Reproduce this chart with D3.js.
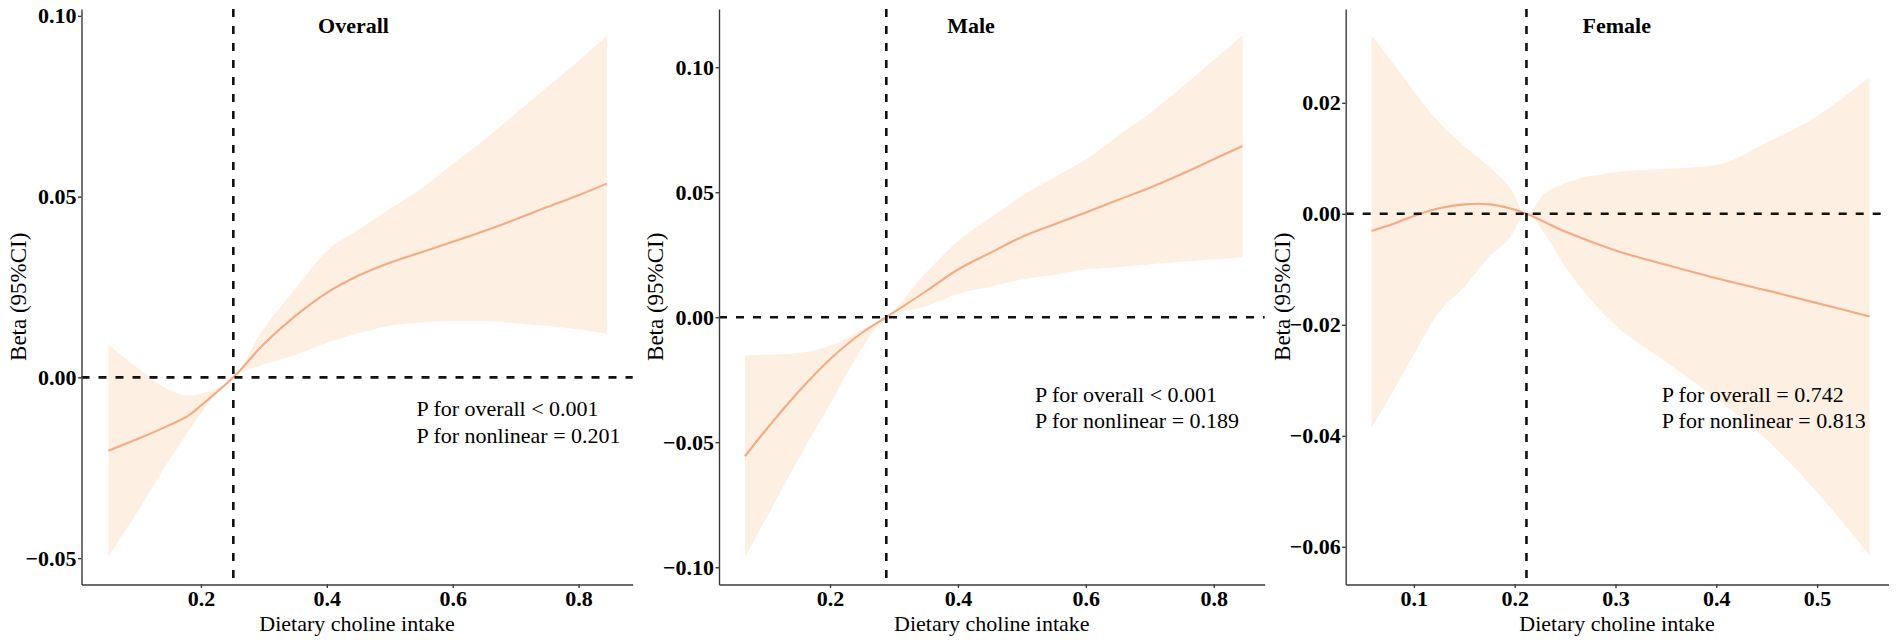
<!DOCTYPE html>
<html lang="en">
<head>
<meta charset="UTF-8">
<title>Dietary choline intake and Beta (95%CI)</title>
<script src="https://d3js.org/d3.v7.min.js"></script>
<style>
  body { margin: 0; background: #fff; overflow: hidden; }
  svg { display: block; }
  text { font-family: "Liberation Serif", "Times New Roman", serif; fill: #000; }
  .tick text { font-weight: bold; font-size: 22px; }
  .domain, .tick line { stroke: #3a3a3a; stroke-width: 1.4; }
  .ref-line { stroke: #111; stroke-width: 2.6; stroke-dasharray: 8 9; fill: none; }
  .band { fill: #fdefe1; }
  .fit { fill: none; stroke: #f3ab84; stroke-width: 2.1; }
  .panel-title { font-weight: bold; font-size: 22px; }
  .axis-title { font-size: 22px; }
  .p-text { font-size: 22px; }
</style>
</head>
<body>
<script>
const width = 1902, height = 640;

// Overall
const overallX     = [0.053, 0.10, 0.15, 0.18, 0.20, 0.2515, 0.30, 0.35, 0.40, 0.45, 0.50, 0.55, 0.60, 0.65, 0.70, 0.75, 0.80, 0.845];
const overallFit   = [-0.0203, -0.0170, -0.0132, -0.0106, -0.0078, 0, 0.0092, 0.0170, 0.0234, 0.0281, 0.0317, 0.0346, 0.0375, 0.0405, 0.0437, 0.0471, 0.0504, 0.0536];
const overallLower = [-0.0495, -0.0370, -0.0228, -0.0150, -0.0100, 0, 0.0036, 0.0062, 0.0095, 0.0122, 0.0143, 0.0152, 0.0155, 0.0155, 0.0150, 0.0143, 0.0133, 0.0120];
const overallUpper = [0.0090, 0.0025, -0.0035, -0.0050, -0.0045, 0, 0.0135, 0.0245, 0.0349, 0.0408, 0.0466, 0.0522, 0.0590, 0.0657, 0.0730, 0.0803, 0.0876, 0.0944];

// Male
const maleX     = [0.067, 0.10, 0.15, 0.20, 0.25, 0.288, 0.35, 0.40, 0.45, 0.50, 0.55, 0.60, 0.65, 0.70, 0.75, 0.80, 0.845];
const maleFit   = [-0.0556, -0.0450, -0.0300, -0.0168, -0.0062, 0, 0.0104, 0.0191, 0.0257, 0.0321, 0.0371, 0.0419, 0.0469, 0.0518, 0.0573, 0.0632, 0.0685];
const maleLower = [-0.0959, -0.0805, -0.0570, -0.0347, -0.0125, 0, 0.0044, 0.0093, 0.0122, 0.0151, 0.0170, 0.0191, 0.0200, 0.0212, 0.0222, 0.0232, 0.0240];
const maleUpper = [-0.0152, -0.0150, -0.0143, -0.0114, -0.0050, 0, 0.0178, 0.0305, 0.0396, 0.0485, 0.0559, 0.0631, 0.0725, 0.0816, 0.0920, 0.1029, 0.1128];

// Female
const femaleX     = [0.058, 0.08, 0.10, 0.125, 0.15, 0.175, 0.195, 0.2117, 0.23, 0.25, 0.30, 0.35, 0.40, 0.45, 0.50, 0.552];
const femaleFit   = [-0.0031, -0.0018, -0.0004, 0.0010, 0.0017, 0.0017, 0.0010, 0, -0.0015, -0.0032, -0.0066, -0.0092, -0.0116, -0.0138, -0.0161, -0.0185];
const femaleLower = [-0.0386, -0.0318, -0.0253, -0.0177, -0.0132, -0.0077, -0.0044, 0, -0.0037, -0.0095, -0.0201, -0.0267, -0.0333, -0.0407, -0.0502, -0.0615];
const femaleUpper = [0.0321, 0.0270, 0.0221, 0.0165, 0.0122, 0.0084, 0.0048, 0, 0.0037, 0.0055, 0.0075, 0.0081, 0.0088, 0.0128, 0.0176, 0.0247];

const panelTitles = ["Overall", "Male", "Female"];
const refX = [0.2515, 0.288, 0.2117];
const pOverall = ["P for overall < 0.001", "P for overall < 0.001", "P for overall = 0.742"];
const pNonlinear = ["P for nonlinear = 0.201", "P for nonlinear = 0.189", "P for nonlinear = 0.813"];
const xTicks = [[0.2, 0.4, 0.6, 0.8], [0.2, 0.4, 0.6, 0.8], [0.1, 0.2, 0.3, 0.4, 0.5]];
const yTicks = [[-0.05, 0, 0.05, 0.10], [-0.10, -0.05, 0, 0.05, 0.10], [-0.06, -0.04, -0.02, 0, 0.02]];

const xLabel = "Dietary choline intake";
const yLabel = "Beta (95%CI)";

// layout of each panel in pixels
const layout = [
  { left: 81.5,   right: 632.7,  xDom: [0.0103, 0.886],  yDom: [-0.0573, 0.1019], titleDx: 272, pDx: 335, pY: [416, 443] },
  { left: 719,    right: 1264.7, xDom: [0.0264, 0.8797], yDom: [-0.1069, 0.1233], titleDx: 252, pDx: 316, pY: [402, 428] },
  { left: 1345.7, right: 1888.5, xDom: [0.0324, 0.5708], yDom: [-0.0668, 0.0369], titleDx: 271, pDx: 316, pY: [402, 428] }
];
const plotTop = 9, plotBottom = 584.5;

const series = [
  { x: overallX, fit: overallFit, lo: overallLower, hi: overallUpper },
  { x: maleX, fit: maleFit, lo: maleLower, hi: maleUpper },
  { x: femaleX, fit: femaleFit, lo: femaleLower, hi: femaleUpper }
];

const svg = d3.select("body").append("svg")
  .attr("width", width)
  .attr("height", height);

series.forEach((s, i) => {
  const L = layout[i];
  const x = d3.scaleLinear().domain(L.xDom).range([L.left, L.right]);
  const y = d3.scaleLinear().domain(L.yDom).range([plotBottom, plotTop]);
  const pts = s.x.map((v, j) => ({ x: v, fit: s.fit[j], lo: s.lo[j], hi: s.hi[j] }));

  const g = svg.append("g");

  g.append("path")
    .datum(pts)
    .attr("class", "band")
    .attr("d", d3.area()
      .curve(d3.curveMonotoneX)
      .x(d => x(d.x))
      .y0(d => y(d.lo))
      .y1(d => y(d.hi)));

  g.append("path")
    .datum(pts)
    .attr("class", "fit")
    .attr("d", d3.line()
      .curve(d3.curveCatmullRom.alpha(0.5))
      .x(d => x(d.x))
      .y(d => y(d.fit)));

  // reference lines
  g.append("line")
    .attr("class", "ref-line")
    .attr("x1", L.left).attr("x2", L.right)
    .attr("y1", y(0)).attr("y2", y(0));
  g.append("line")
    .attr("class", "ref-line")
    .attr("x1", x(refX[i])).attr("x2", x(refX[i]))
    .attr("y1", plotTop).attr("y2", plotBottom);

  g.append("g")
    .attr("transform", `translate(0,${plotBottom})`)
    .call(d3.axisBottom(x).tickValues(xTicks[i]).tickFormat(d3.format(".1f"))
      .tickSize(3.5).tickSizeOuter(0).tickPadding(2.5));

  g.append("g")
    .attr("transform", `translate(${L.left},0)`)
    .call(d3.axisLeft(y).tickValues(yTicks[i]).tickFormat(d3.format(".2f"))
      .tickSize(3.5).tickSizeOuter(0).tickPadding(1.5));

  g.selectAll(".domain").attr("fill", "none");

  g.append("text")
    .attr("class", "panel-title")
    .attr("x", L.left + L.titleDx)
    .attr("y", 33)
    .attr("text-anchor", "middle")
    .text(panelTitles[i]);

  g.append("text")
    .attr("class", "p-text")
    .attr("x", L.left + L.pDx)
    .attr("y", L.pY[0])
    .text(pOverall[i]);
  g.append("text")
    .attr("class", "p-text")
    .attr("x", L.left + L.pDx)
    .attr("y", L.pY[1])
    .text(pNonlinear[i]);

  g.append("text")
    .attr("class", "axis-title")
    .attr("x", (L.left + L.right) / 2)
    .attr("y", 631)
    .attr("text-anchor", "middle")
    .text(xLabel);

  g.append("text")
    .attr("class", "axis-title")
    .attr("transform", `translate(${L.left - 56},${(plotTop + plotBottom) / 2}) rotate(-90)`)
    .attr("text-anchor", "middle")
    .style("font-size", "23px")
    .text(yLabel);
});
</script>
</body>
</html>
